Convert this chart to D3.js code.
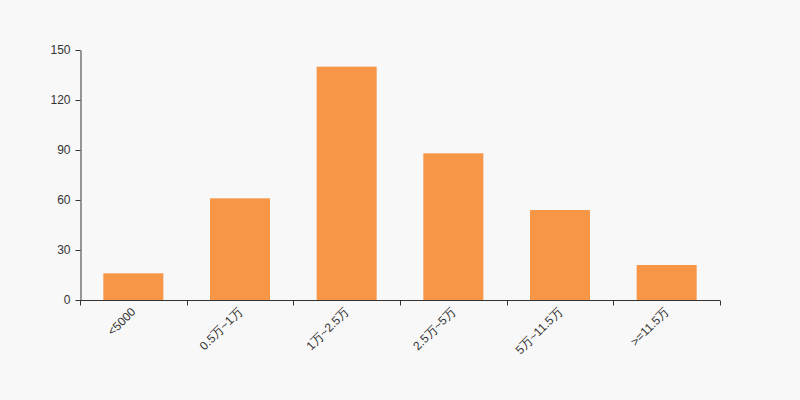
<!DOCTYPE html>
<html><head><meta charset="utf-8">
<script src="https://cdn.jsdelivr.net/npm/d3@7"></script>
<style>body{margin:0;background:#f8f8f8;}svg{display:block;}</style>
</head><body><svg id="c" width="800" height="400"></svg>
<script>
const categories = ["<5000","0.5万~1万","1万~2.5万","2.5万~5万","5万~11.5万",">=11.5万"];
const values = [16, 61, 140, 88, 54, 21];
const yTicks = [0, 30, 60, 90, 120, 150];

const svg = d3.select("#c");
svg.append("rect").attr("width",800).attr("height",400).attr("fill","#f8f8f8");
const m = {l:80, r:80, t:50, b:100};
const x = d3.scaleBand().domain(categories).range([m.l, 800-m.r]).padding(0);
const y = d3.scaleLinear().domain([0,150]).range([400-m.b, m.t]);
const bw = x.bandwidth()*0.5625;

svg.append("g").selectAll("rect").data(values).join("rect")
  .attr("x",(d,i)=>x(categories[i])+(x.bandwidth()-bw)/2)
  .attr("y",d=>y(d)).attr("width",bw).attr("height",d=>y(0)-y(d))
  .attr("fill","#f79646");

const font = "Arial, 'Liberation Sans', sans-serif";
const ya = svg.append("g").attr("transform",`translate(${m.l+0.5},0)`)
  .call(d3.axisLeft(y).tickValues(yTicks).tickSize(5).tickPadding(5).tickSizeOuter(0));
ya.selectAll("text").attr("fill","#333").attr("dy","0.25em").style("font-size","12px").style("font-family",font);
ya.selectAll("line,path").attr("stroke","#333");

const xa = svg.append("g").attr("transform",`translate(0,${y(0)+0.5})`);
xa.append("line").attr("x1",m.l).attr("x2",800-m.r).attr("stroke","#333");
const bounds = categories.map(c=>x(c)).concat([800-m.r]);
xa.selectAll("line.t").data(bounds).join("line").attr("class","t")
  .attr("x1",d=>Math.round(d)+0.5).attr("x2",d=>Math.round(d)+0.5).attr("y1",0).attr("y2",5).attr("stroke","#333");
xa.selectAll("text").data(categories).join("text")
  .attr("transform",d=>`translate(${x(d)+x.bandwidth()/2+3},${12}) rotate(-45)`)
  .attr("text-anchor","end").attr("fill","#333")
  .style("font-size","12px").style("font-family",font).text(d=>d);
</script></body></html>
